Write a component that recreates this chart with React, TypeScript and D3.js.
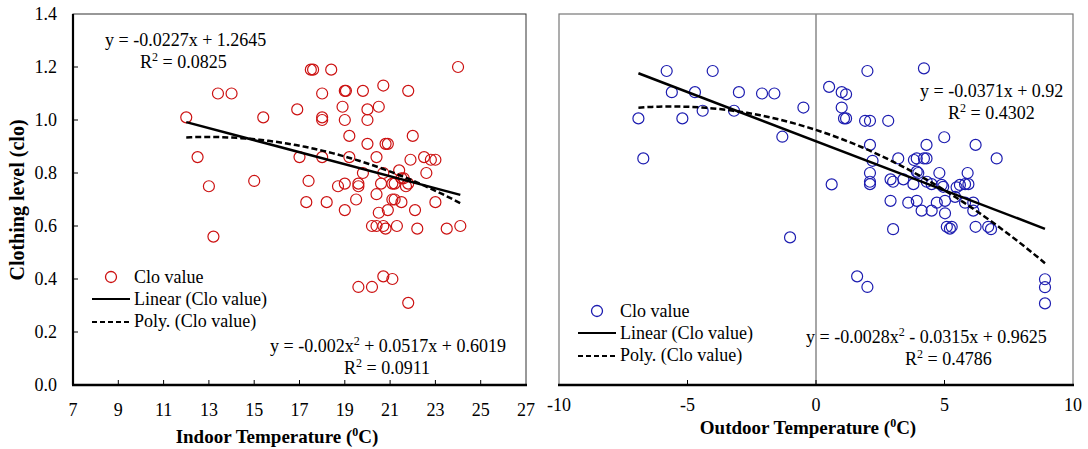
import * as d3 from "d3";

// indoor panel (left)
const indoorT = [12.0, 12.5, 13.0, 13.2, 13.4, 14.0, 15.0, 15.4, 16.9, 17.0, 17.3, 17.4, 17.5, 17.6, 18.0, 18.0, 18.0, 18.0, 18.2, 18.4, 18.7, 18.9, 19.0, 19.05, 19.0, 19.0, 19.0, 19.2, 19.2, 19.5, 19.6, 19.6, 19.6, 19.8, 19.8, 20.0, 20.0, 20.0, 20.2, 20.2, 20.4, 20.4, 20.4, 20.5, 20.5, 20.6, 20.7, 20.7, 20.7, 20.7, 20.8, 20.9, 20.8, 20.9, 21.1, 21.1, 21.1, 21.2, 21.2, 21.3, 21.4, 21.5, 21.5, 21.6, 21.7, 21.8, 21.8, 21.8, 21.9, 22.0, 22.1, 22.2, 22.5, 22.6, 22.8, 23.0, 23.0, 23.5, 24.0, 24.1];
const indoorClo = [1.01, 0.86, 0.75, 0.56, 1.10, 1.10, 0.77, 1.01, 1.04, 0.86, 0.69, 0.77, 1.19, 1.19, 1.10, 1.01, 1.00, 0.86, 0.69, 1.19, 0.75, 1.05, 1.11, 1.11, 1.00, 0.76, 0.66, 0.94, 0.86, 0.70, 0.76, 0.75, 0.37, 1.11, 0.80, 1.04, 1.00, 0.91, 0.60, 0.37, 0.86, 0.72, 0.60, 1.05, 0.65, 0.76, 1.13, 0.80, 0.60, 0.41, 0.91, 0.91, 0.59, 0.66, 0.76, 0.70, 0.40, 0.76, 0.70, 0.60, 0.81, 0.78, 0.69, 0.78, 0.75, 1.11, 0.76, 0.31, 0.85, 0.94, 0.66, 0.59, 0.86, 0.80, 0.85, 0.85, 0.69, 0.59, 1.20, 0.60];

// outdoor panel (right)
const outdoorT = [-6.91, -6.72, -5.81, -5.61, -5.2, -4.71, -4.41, -4.02, -3.19, -3.0, -2.1, -1.62, -1.31, -1.01, -0.49, 0.51, 0.61, 1.0, 1.0, 1.09, 1.17, 1.17, 1.6, 1.91, 2.0, 2.0, 2.1, 2.1, 2.2, 2.1, 2.1, 2.1, 2.81, 2.9, 2.9, 3.0, 3.0, 3.2, 3.4, 3.59, 3.79, 3.81, 3.92, 3.92, 3.92, 3.98, 4.11, 4.2, 4.2, 4.3, 4.3, 4.31, 4.5, 4.5, 4.7, 4.8, 4.89, 4.95, 4.99, 5.02, 5.02, 5.09, 5.21, 5.28, 5.41, 5.47, 5.6, 5.8, 5.8, 5.9, 5.93, 6.12, 6.12, 6.21, 6.21, 6.7, 6.81, 7.03, 8.91, 8.91, 8.91];
const outdoorClo = [1.006, 0.855, 1.185, 1.105, 1.006, 1.105, 1.035, 1.185, 1.035, 1.105, 1.10, 1.10, 0.937, 0.557, 1.047, 1.125, 0.757, 1.105, 1.047, 1.006, 1.097, 1.006, 0.41, 0.997, 1.185, 0.37, 0.997, 0.906, 0.846, 0.80, 0.767, 0.758, 0.997, 0.776, 0.695, 0.767, 0.588, 0.855, 0.776, 0.688, 0.758, 0.849, 0.855, 0.805, 0.695, 0.80, 0.658, 1.195, 0.855, 0.906, 0.855, 0.767, 0.758, 0.658, 0.688, 0.80, 0.755, 0.748, 0.935, 0.695, 0.648, 0.597, 0.59, 0.597, 0.71, 0.746, 0.755, 0.758, 0.688, 0.80, 0.758, 0.688, 0.658, 0.906, 0.597, 0.597, 0.588, 0.855, 0.399, 0.369, 0.308];

// trend line coefficients as printed on the chart
const indoorLin = [-0.0227, 1.2645];
const indoorPoly = [-0.002, 0.0517, 0.6019];
const outdoorLin = [-0.0371, 0.92];
const outdoorPoly = [-0.0028, -0.0315, 0.9625];

const indoorXTicks = [7, 9, 11, 13, 15, 17, 19, 21, 23, 25, 27];
const outdoorXTicks = [-10, -5, 0, 5, 10];
const yTicks = [0, 0.2, 0.4, 0.6, 0.8, 1.0, 1.2, 1.4];

const W = 1088;
const H = 449;
const top = 14;
const bottom = 385;
const font = "'Liberation Serif', 'Times New Roman', 'DejaVu Serif', serif";

const yScale = d3.scaleLinear().domain([0, 1.4]).range([bottom, top]);
const xIn = d3.scaleLinear().domain([7, 27]).range([73, 526]);
const xOut = d3.scaleLinear().domain([-10, 10]).range([559, 1073]);

function trend(x, lin, poly, xs) {
  const [a, b] = lin;
  const [p, q, r] = poly;
  const lo = d3.min(xs), hi = d3.max(xs);
  const line = d3.line().x(d => x(d)).y(d => yScale(a * d + b));
  const curve = d3.line().x(d => x(d)).y(d => yScale(p * d * d + q * d + r));
  const pts = d3.range(lo, hi, (hi - lo) / 60).concat([hi]);
  return { lin: line([lo, hi]), poly: curve(pts) };
}

function Sup({ base, sup, rest }) {
  return (
    <>
      {base}
      <tspan baselineShift="super" fontSize="12">{sup}</tspan>
      {rest}
    </>
  );
}

function Legend({ x, y, color }) {
  return (
    <g fontSize="18">
      <circle cx={x + 19} cy={y} r={5.5} fill="none" stroke={color} strokeWidth={1.3} />
      <text x={x + 42} y={y + 6}>Clo value</text>
      <line x1={x} x2={x + 38} y1={y + 22} y2={y + 22} stroke="#000" strokeWidth={2.2} />
      <text x={x + 42} y={y + 28}>Linear (Clo value)</text>
      <line x1={x} x2={x + 38} y1={y + 45} y2={y + 45} stroke="#000" strokeWidth={2.2} strokeDasharray="5,3" />
      <text x={x + 42} y={y + 50}>Poly. (Clo value)</text>
    </g>
  );
}

export default function App() {
  const tIn = trend(xIn, indoorLin, indoorPoly, indoorT);
  const tOut = trend(xOut, outdoorLin, outdoorPoly, outdoorT);
  return (
    <div style={{ position: "absolute", left: 0, top: 0 }}>
      <svg width={W} height={H} style={{ display: "block", background: "#fff", fontFamily: font }}>
        {/* ---- left panel ---- */}
        <rect x={73} y={top} width={526 - 73} height={bottom - top} fill="none" stroke="#333" strokeWidth={1} />
        <line x1={73} x2={73} y1={top} y2={bottom} stroke="#000" strokeWidth={2.2} />
        <line x1={72} x2={527} y1={bottom} y2={bottom} stroke="#000" strokeWidth={2.5} />
        {indoorXTicks.slice(1, -1).map(t => (
          <line key={t} x1={xIn(t)} x2={xIn(t)} y1={bottom} y2={bottom - 5} stroke="#000" strokeWidth={1} />
        ))}
        {yTicks.slice(1, -1).map(t => (
          <line key={t} x1={73} x2={78} y1={yScale(t)} y2={yScale(t)} stroke="#000" strokeWidth={1} />
        ))}
        <g fontSize="18">
          {yTicks.map(t => (
            <text key={t} x={57} y={yScale(t) + 6} textAnchor="end">{t.toFixed(1)}</text>
          ))}
          {indoorXTicks.map(t => (
            <text key={t} x={xIn(t)} y={416} textAnchor="middle">{t}</text>
          ))}
        </g>
        {indoorT.map((t, i) => (
          <circle key={i} cx={xIn(t)} cy={yScale(indoorClo[i])} r={5.5} fill="none" stroke="#cc1111" strokeWidth={1.2} />
        ))}
        <path d={tIn.lin} fill="none" stroke="#000" strokeWidth={2.5} />
        <path d={tIn.poly} fill="none" stroke="#000" strokeWidth={2.5} strokeDasharray="6,3" />
        <g fontSize="18">
          <text x={105} y={46}>y = -0.0227x + 1.2645</text>
          <text x={140} y={68}><Sup base="R" sup="2" rest=" = 0.0825" /></text>
          <text x={270} y={352}><Sup base="y = -0.002x" sup="2" rest=" + 0.0517x + 0.6019" /></text>
          <text x={344} y={374}><Sup base="R" sup="2" rest=" = 0.0911" /></text>
        </g>
        <Legend x={92} y={277} color="#cc1111" />
        <text transform="translate(24,200) rotate(-90)" textAnchor="middle" fontSize="20" fontWeight="bold">
          Clothing level (clo)
        </text>
        <text x={277} y={443} textAnchor="middle" fontSize="19" fontWeight="bold">
          <Sup base="Indoor Temperature (" sup="0" rest="C)" />
        </text>

        {/* ---- right panel ---- */}
        <rect x={559} y={top} width={1073 - 559} height={bottom - top} fill="none" stroke="#777" strokeWidth={1.2} />
        <line x1={xOut(0)} x2={xOut(0)} y1={top} y2={bottom} stroke="#888" strokeWidth={1.5} />
        <line x1={558} x2={1074} y1={bottom} y2={bottom} stroke="#000" strokeWidth={2.5} />
        {outdoorXTicks.slice(1, -1).map(t => (
          <line key={t} x1={xOut(t)} x2={xOut(t)} y1={bottom} y2={bottom - 5} stroke="#000" strokeWidth={1} />
        ))}
        <g fontSize="18">
          {outdoorXTicks.map(t => (
            <text key={t} x={xOut(t)} y={411} textAnchor="middle">{t}</text>
          ))}
        </g>
        {outdoorT.map((t, i) => (
          <circle key={i} cx={xOut(t)} cy={yScale(outdoorClo[i])} r={5.5} fill="none" stroke="#1c1cb0" strokeWidth={1.2} />
        ))}
        <path d={tOut.lin} fill="none" stroke="#000" strokeWidth={2.5} />
        <path d={tOut.poly} fill="none" stroke="#000" strokeWidth={2.5} strokeDasharray="6,3" />
        <g fontSize="18">
          <text x={920} y={97}>y = -0.0371x + 0.92</text>
          <text x={948} y={119}><Sup base="R" sup="2" rest=" = 0.4302" /></text>
          <text x={806} y={343}><Sup base="y = -0.0028x" sup="2" rest=" - 0.0315x + 0.9625" /></text>
          <text x={905} y={365}><Sup base="R" sup="2" rest=" = 0.4786" /></text>
        </g>
        <Legend x={578} y={311} color="#1c1cb0" />
        <text x={808} y={434} textAnchor="middle" fontSize="19" fontWeight="bold">
          <Sup base="Outdoor Temperature (" sup="0" rest="C)" />
        </text>
      </svg>
    </div>
  );
}
